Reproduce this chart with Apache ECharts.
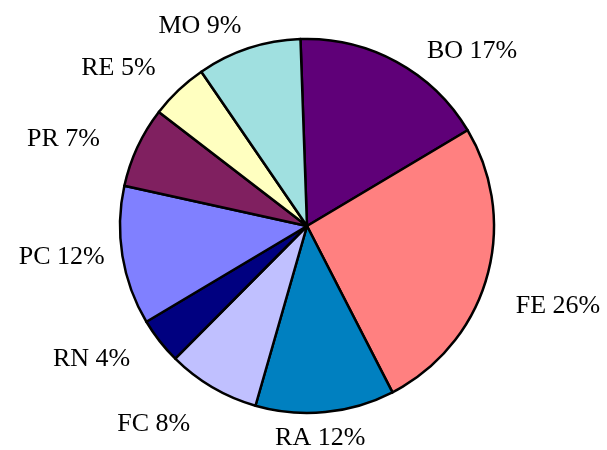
<!DOCTYPE html>
<html>
<head>
<meta charset="utf-8">
<script src="https://cdn.jsdelivr.net/npm/echarts@6/dist/echarts.min.js"></script>
<style>
  html, body { margin: 0; padding: 0; background: #fff; }
  #main { width: 607px; height: 450px; }
</style>
</head>
<body>
<div id="main"></div>
<script>
// slices, clockwise from the top
var categories = ['BO', 'FE', 'RA', 'FC', 'RN', 'PC', 'PR', 'RE', 'MO'];
var values = [17, 26, 12, 8, 4, 12, 7, 5, 9];
var colors = ['#5F0078', '#FF8080', '#0080C0', '#C0C0FF', '#000080', '#8080FF', '#802060', '#FFFFC0', '#A0E0E0'];
// small label nudges so the labels sit where the original put them
var labelNudge = [[16, 12], [2, 21], [-5, 0], [-7, 14], [-7, 2], [10, -3], [-12, 3], [-3, -3], [3, 3]];

var chart = echarts.init(document.getElementById('main'));

var pieData = categories.map(function (c, i) {
    return { name: c, value: values[i], itemStyle: { color: colors[i] } };
});

chart.setOption({
    backgroundColor: '#fff',
    animation: false,
    series: [{
        type: 'pie',
        center: [307, 226],
        radius: 187,
        startAngle: 92,
        clockwise: true,
        avoidLabelOverlap: false,
        itemStyle: {
            borderColor: '#000',
            borderWidth: 2.5
        },
        label: {
            show: true,
            position: 'outside',
            formatter: '{b} {d}%',
            fontFamily: '"Liberation Serif", "Times New Roman", serif',
            fontSize: 26,
            color: '#000',
            overflow: 'none',
            distanceToLabelLine: 2
        },
        labelLine: {
            show: false,
            length: 26,
            length2: 0
        },
        labelLayout: function (p) {
            var n = labelNudge[p.dataIndex] || [0, 0];
            var res = { dx: n[0], dy: n[1] };
            // labels straight under the pie are centred
            var pt = p.labelLinePoints && p.labelLinePoints[0];
            if (pt && Math.abs(pt[0] - 307) < 40) {
                res.align = 'center';
                res.x = pt[0];
            }
            return res;
        },
        data: pieData
    }]
});
</script>
</body>
</html>
